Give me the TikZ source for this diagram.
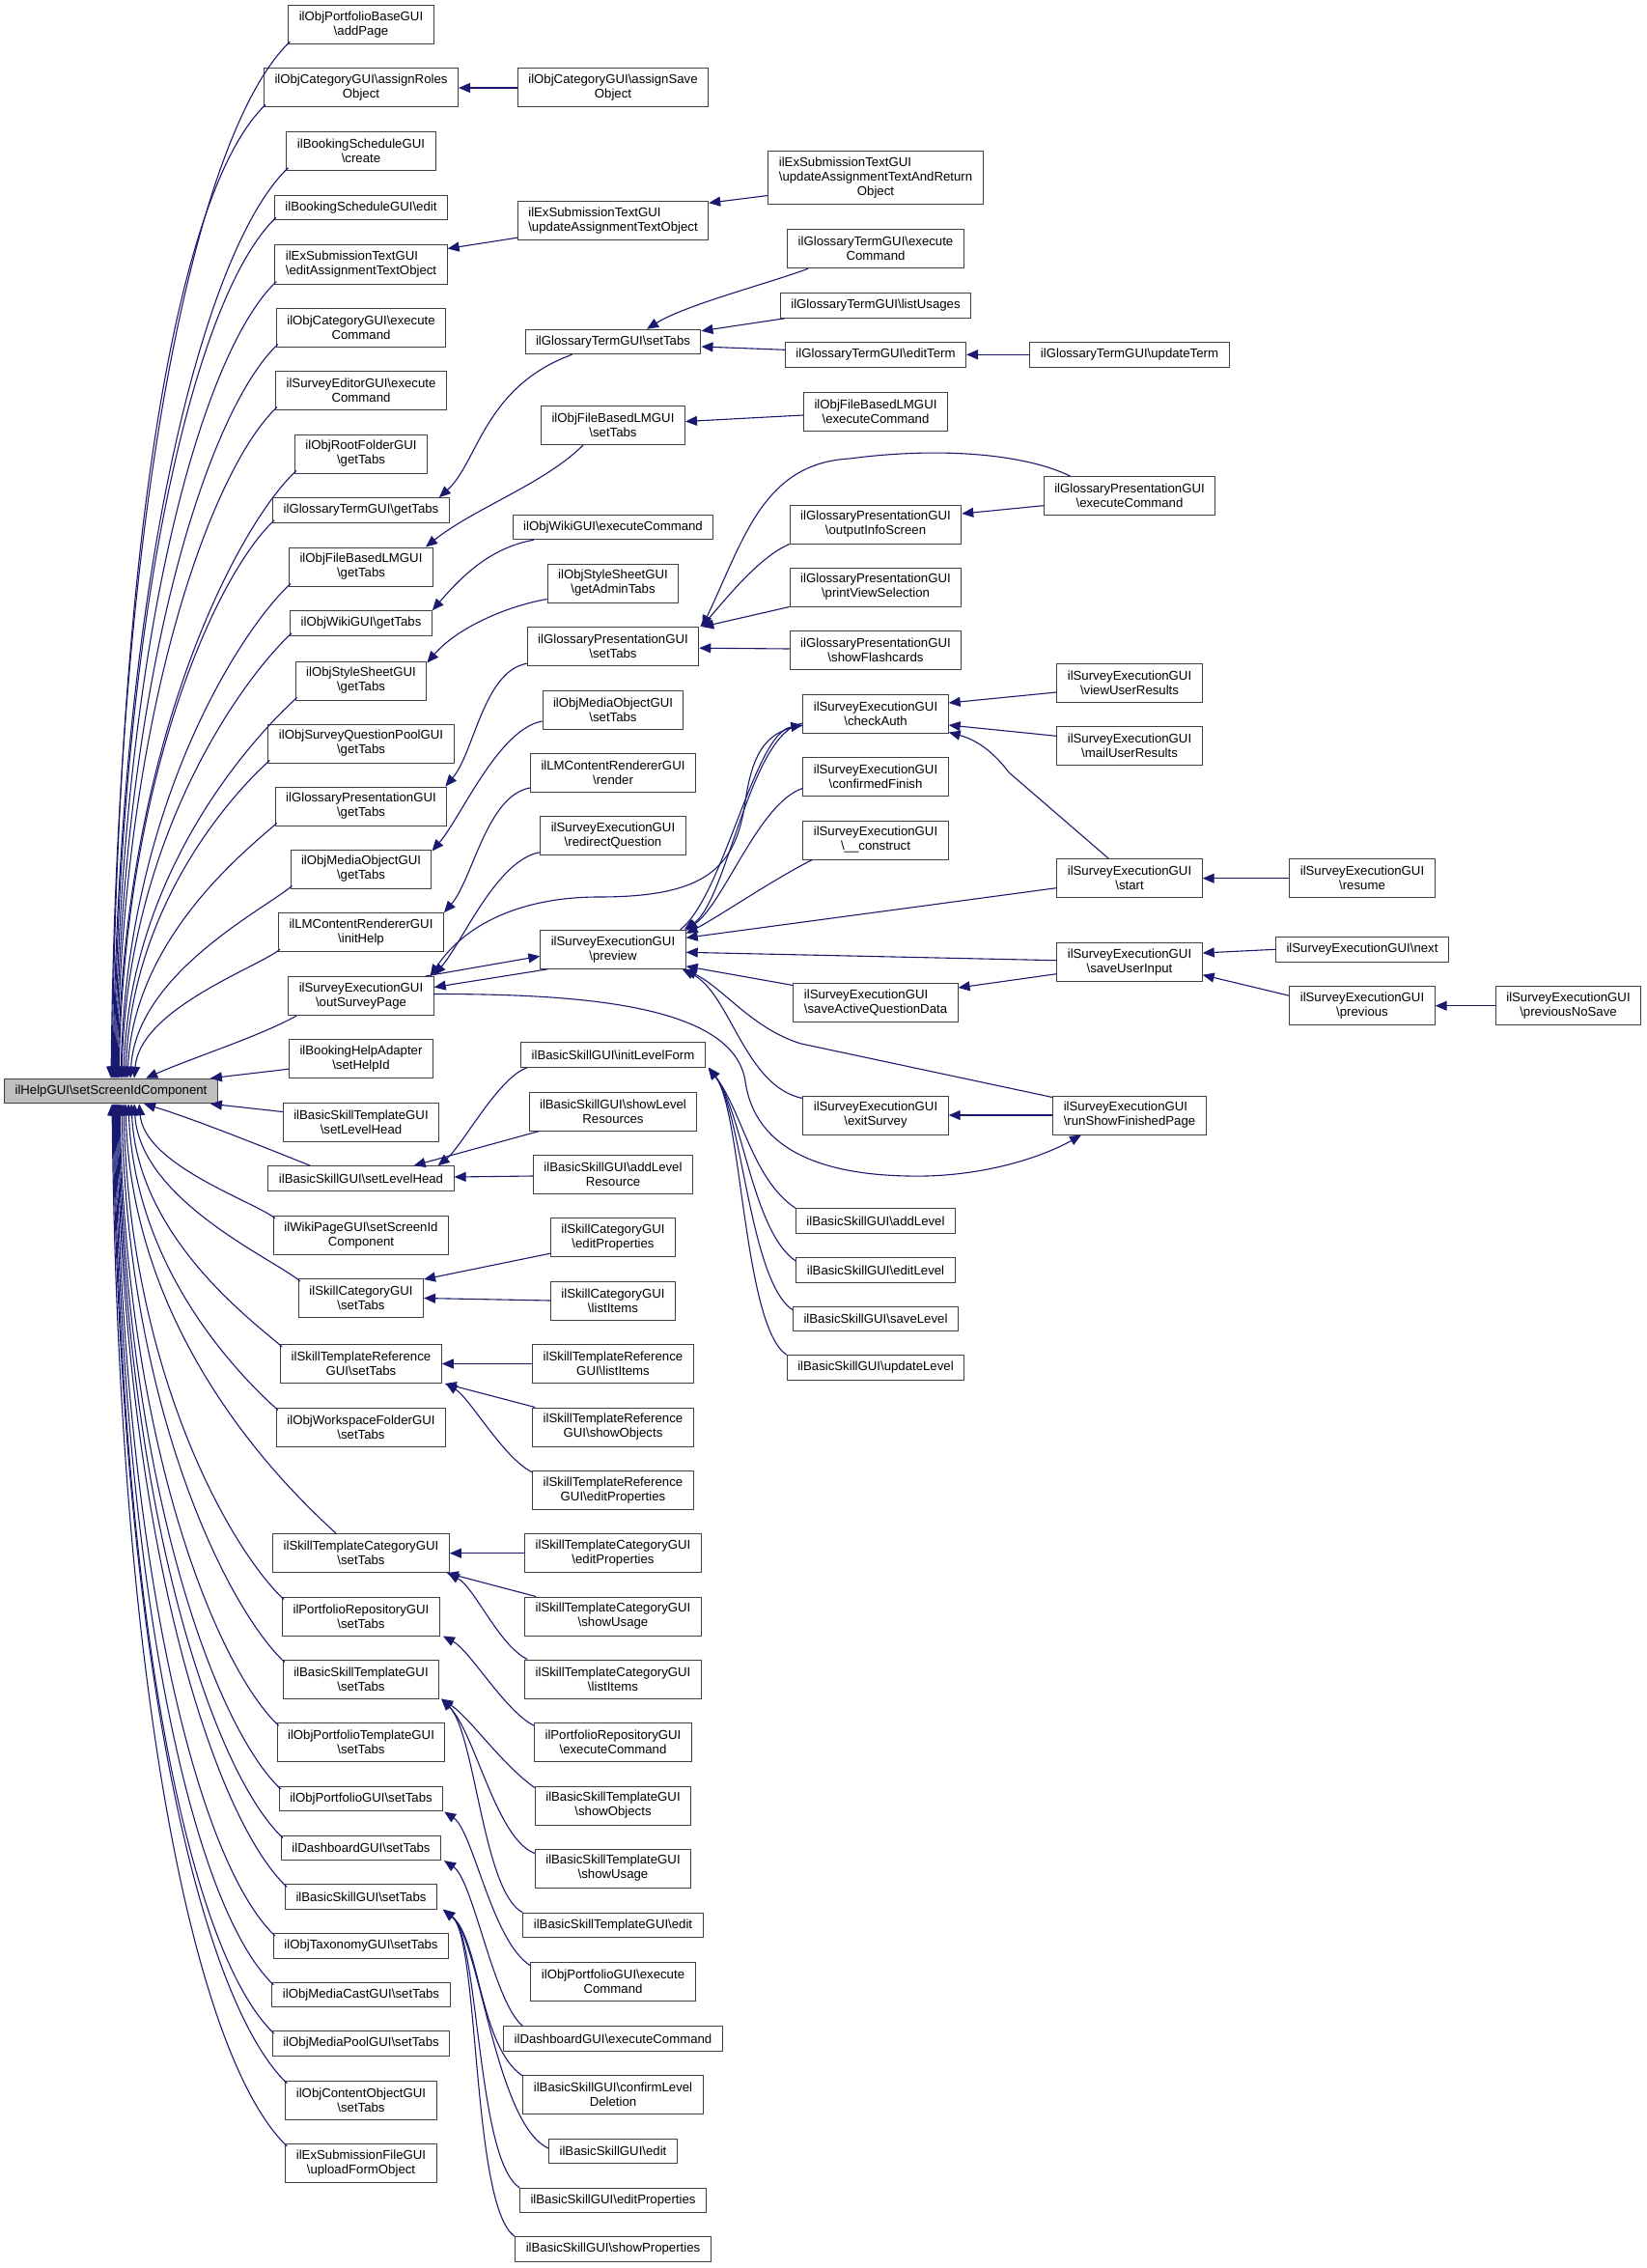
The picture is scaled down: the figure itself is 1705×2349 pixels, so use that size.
\documentclass[tikz,border=0pt]{standalone}
\usepackage{fontspec}
\setmainfont{Liberation Sans}
\usetikzlibrary{arrows.meta,calc}
\definecolor{edgeblue}{RGB}{25,25,112}
\newcommand\bs{\textbackslash}
\newcommand\dfont{\fontsize{6.6}{7.5}\selectfont}
\tikzset{
 base/.style={draw=black!75, line width=0.5pt, fill=white, font=\dfont, inner xsep=5.5pt, inner ysep=1pt, align=center},
 b1/.style={base, minimum height=12.75pt},
 b2/.style={base, minimum height=20pt},
 b3/.style={base, minimum height=27.5pt},
 lft/.style={align=left},
 cg/.style={draw=edgeblue, line width=0.55pt, arrows={Triangle[length=6pt,width=5pt]-}},
}
\newcommand\fanU[3]{\draw[cg] ([shift={(#2,0)}]root.north west) .. controls +(6,{-0.55*#3}) and +({-0.08*#3-12},{0.08*#3+8}) .. ([shift={(2,-3)}]#1.south west);}
\newcommand\fanD[3]{\draw[cg] ([shift={(#2,0)}]root.south west) .. controls +(6,{0.55*#3}) and +({-0.08*#3-12},{-0.08*#3-8}) .. ([shift={(2,3)}]#1.north west);}
\begin{document}
\begin{tikzpicture}[x=0.5pt, y=-0.5pt]
\useasboundingbox (0,0) rectangle (1705,2349);
% ---------- root
\node[b1, fill=black!25] (root) at (115,1130) {ilHelpGUI\bs setScreenIdComponent};
% ---------- column 1
\node[b2] (addPage) at (374,25.7) {ilObjPortfolioBaseGUI\\\bs addPage};
\node[b2] (assignRoles) at (374,91) {ilObjCategoryGUI\bs assignRoles\\Object};
\node[b2] (create) at (374,156.3) {ilBookingScheduleGUI\\\bs create};
\node[b1] (bookEdit) at (374,215) {ilBookingScheduleGUI\bs edit};
\node[b2,lft] (editAssign) at (374,274) {ilExSubmissionTextGUI\\\bs editAssignmentTextObject};
\node[b2] (catExec) at (374,339) {ilObjCategoryGUI\bs execute\\Command};
\node[b2] (seExec) at (374,404) {ilSurveyEditorGUI\bs execute\\Command};
\node[b2] (rootFolder) at (374,470) {ilObjRootFolderGUI\\\bs getTabs};
\node[b1] (gtGetTabs) at (374,528.5) {ilGlossaryTermGUI\bs getTabs};
\node[b2] (flmGetTabs) at (374,587) {ilObjFileBasedLMGUI\\\bs getTabs};
\node[b1] (wikiGetTabs) at (374,645.5) {ilObjWikiGUI\bs getTabs};
\node[b2] (ssGetTabs) at (374,705) {ilObjStyleSheetGUI\\\bs getTabs};
\node[b2] (sqpGetTabs) at (374,770) {ilObjSurveyQuestionPoolGUI\\\bs getTabs};
\node[b2] (gpGetTabs) at (374,835) {ilGlossaryPresentationGUI\\\bs getTabs};
\node[b2] (moGetTabs) at (374,900) {ilObjMediaObjectGUI\\\bs getTabs};
\node[b2] (initHelp) at (374,965.7) {ilLMContentRendererGUI\\\bs initHelp};
\node[b2] (outSurvey) at (374,1031.5) {ilSurveyExecutionGUI\\\bs outSurveyPage};
\node[b2] (setHelpId) at (374,1096.7) {ilBookingHelpAdapter\\\bs setHelpId};
\node[b2] (bstLevelHead) at (374,1162) {ilBasicSkillTemplateGUI\\\bs setLevelHead};
\node[b1] (bsLevelHead) at (374,1220.5) {ilBasicSkillGUI\bs setLevelHead};
\node[b2] (wikiPage) at (374,1279.3) {ilWikiPageGUI\bs setScreenId\\Component};
\node[b2] (scSetTabs) at (374,1344.5) {ilSkillCategoryGUI\\\bs setTabs};
\node[b2] (strSetTabs) at (374,1412.5) {ilSkillTemplateReference\\GUI\bs setTabs};
\node[b2] (wsSetTabs) at (374,1478) {ilObjWorkspaceFolderGUI\\\bs setTabs};
\node[b2] (stcSetTabs) at (374,1608.7) {ilSkillTemplateCategoryGUI\\\bs setTabs};
\node[b2] (prSetTabs) at (374,1674) {ilPortfolioRepositoryGUI\\\bs setTabs};
\node[b2] (bstSetTabs) at (374,1739) {ilBasicSkillTemplateGUI\\\bs setTabs};
\node[b2] (optSetTabs) at (374,1804.7) {ilObjPortfolioTemplateGUI\\\bs setTabs};
\node[b1] (opSetTabs) at (374,1863.2) {ilObjPortfolioGUI\bs setTabs};
\node[b1] (dbSetTabs) at (374,1913.8) {ilDashboardGUI\bs setTabs};
\node[b1] (bsSetTabs) at (374,1964.5) {ilBasicSkillGUI\bs setTabs};
\node[b1] (taxSetTabs) at (374,2015.3) {ilObjTaxonomyGUI\bs setTabs};
\node[b1] (mcSetTabs) at (374,2066) {ilObjMediaCastGUI\bs setTabs};
\node[b1] (mpSetTabs) at (374,2116.3) {ilObjMediaPoolGUI\bs setTabs};
\node[b2] (coSetTabs) at (374,2175.3) {ilObjContentObjectGUI\\\bs setTabs};
\node[b2] (exfUpload) at (374,2240.5) {ilExSubmissionFileGUI\\\bs uploadFormObject};
% ---------- column 2
\node[b2] (assignSave) at (635,91) {ilObjCategoryGUI\bs assignSave\\Object};
\node[b2,lft] (updAssign) at (635,228.7) {ilExSubmissionTextGUI\\\bs updateAssignmentTextObject};
\node[b1] (gtSetTabs) at (635,354) {ilGlossaryTermGUI\bs setTabs};
\node[b2] (flmSetTabs) at (635,440.5) {ilObjFileBasedLMGUI\\\bs setTabs};
\node[b1] (wikiExec) at (635,546) {ilObjWikiGUI\bs executeCommand};
\node[b2] (ssAdmin) at (635,604) {ilObjStyleSheetGUI\\\bs getAdminTabs};
\node[b2] (gpSetTabs) at (635,669.7) {ilGlossaryPresentationGUI\\\bs setTabs};
\node[b2] (moSetTabs) at (635,735) {ilObjMediaObjectGUI\\\bs setTabs};
\node[b2] (render) at (635,800) {ilLMContentRendererGUI\\\bs render};
\node[b2] (redirect) at (635,865.7) {ilSurveyExecutionGUI\\\bs redirectQuestion};
\node[b2] (preview) at (635,983.3) {ilSurveyExecutionGUI\\\bs preview};
\node[b1] (initLevel) at (635,1092.5) {ilBasicSkillGUI\bs initLevelForm};
\node[b2] (showLevelRes) at (635,1151) {ilBasicSkillGUI\bs showLevel\\Resources};
\node[b2] (addLevelRes) at (635,1216) {ilBasicSkillGUI\bs addLevel\\Resource};
\node[b2] (scEdit) at (635,1281.7) {ilSkillCategoryGUI\\\bs editProperties};
\node[b2] (scList) at (635,1347) {ilSkillCategoryGUI\\\bs listItems};
\node[b2] (strList) at (635,1412.5) {ilSkillTemplateReference\\GUI\bs listItems};
\node[b2] (strShow) at (635,1478) {ilSkillTemplateReference\\GUI\bs showObjects};
\node[b2] (strEdit) at (635,1543.3) {ilSkillTemplateReference\\GUI\bs editProperties};
\node[b2] (stcEdit) at (635,1608.7) {ilSkillTemplateCategoryGUI\\\bs editProperties};
\node[b2] (stcUsage) at (635,1674) {ilSkillTemplateCategoryGUI\\\bs showUsage};
\node[b2] (stcList) at (635,1739) {ilSkillTemplateCategoryGUI\\\bs listItems};
\node[b2] (prExec) at (635,1804.7) {ilPortfolioRepositoryGUI\\\bs executeCommand};
\node[b2] (bstShow) at (635,1870) {ilBasicSkillTemplateGUI\\\bs showObjects};
\node[b2] (bstUsage) at (635,1935) {ilBasicSkillTemplateGUI\\\bs showUsage};
\node[b1] (bstEdit) at (635,1994) {ilBasicSkillTemplateGUI\bs edit};
\node[b2] (opExec) at (635,2052.3) {ilObjPortfolioGUI\bs execute\\Command};
\node[b1] (dbExec) at (635,2111.3) {ilDashboardGUI\bs executeCommand};
\node[b2] (confirmDel) at (635,2169.5) {ilBasicSkillGUI\bs confirmLevel\\Deletion};
\node[b1] (bsEdit) at (635,2228) {ilBasicSkillGUI\bs edit};
\node[b1] (bsEditProps) at (635,2279) {ilBasicSkillGUI\bs editProperties};
\node[b1] (bsShowProps) at (635,2329.5) {ilBasicSkillGUI\bs showProperties};
% ---------- column 3
\node[b3] (updRet) at (907,184.5) {\begin{tabular}{@{}l@{}}ilExSubmissionTextGUI\\\bs updateAssignmentTextAndReturn\\\multicolumn{1}{@{}c@{}}{Object}\end{tabular}};
\node[b2] (gtExec) at (907,257.7) {ilGlossaryTermGUI\bs execute\\Command};
\node[b1] (gtList) at (907,316.5) {ilGlossaryTermGUI\bs listUsages};
\node[b1] (gtEdit) at (907,367.3) {ilGlossaryTermGUI\bs editTerm};
\node[b2] (flmExec) at (907,426) {ilObjFileBasedLMGUI\\\bs executeCommand};
\node[b2] (gpInfo) at (907,543) {ilGlossaryPresentationGUI\\\bs outputInfoScreen};
\node[b2] (gpPrint) at (907,608) {ilGlossaryPresentationGUI\\\bs printViewSelection};
\node[b2] (gpFlash) at (907,673.5) {ilGlossaryPresentationGUI\\\bs showFlashcards};
\node[b2] (checkAuth) at (907,739) {ilSurveyExecutionGUI\\\bs checkAuth};
\node[b2] (confFinish) at (907,804.5) {ilSurveyExecutionGUI\\\bs confirmedFinish};
\node[b2] (construct) at (907,870) {ilSurveyExecutionGUI\\\bs\_\_construct};
\node[b2,lft] (saveAQD) at (907,1038) {ilSurveyExecutionGUI\\\bs saveActiveQuestionData};
\node[b2] (exitSurvey) at (907,1155) {ilSurveyExecutionGUI\\\bs exitSurvey};
\node[b1] (addLevel) at (907,1264.5) {ilBasicSkillGUI\bs addLevel};
\node[b1] (editLevel) at (907,1315.3) {ilBasicSkillGUI\bs editLevel};
\node[b1] (saveLevel) at (907,1366) {ilBasicSkillGUI\bs saveLevel};
\node[b1] (updateLevel) at (907,1416.5) {ilBasicSkillGUI\bs updateLevel};
% ---------- column 4
\node[b1] (gtUpd) at (1170,367.3) {ilGlossaryTermGUI\bs updateTerm};
\node[b2] (gpExec) at (1170,513.7) {ilGlossaryPresentationGUI\\\bs executeCommand};
\node[b2] (viewUser) at (1170,707) {ilSurveyExecutionGUI\\\bs viewUserResults};
\node[b2] (mailUser) at (1170,772.3) {ilSurveyExecutionGUI\\\bs mailUserResults};
\node[b2] (startN) at (1170,909.7) {ilSurveyExecutionGUI\\\bs start};
\node[b2] (saveInput) at (1170,996.7) {ilSurveyExecutionGUI\\\bs saveUserInput};
\node[b2,lft] (runShow) at (1170,1155) {ilSurveyExecutionGUI\\\bs runShowFinishedPage};
% ---------- column 5, 6
\node[b2] (resume) at (1411,909.7) {ilSurveyExecutionGUI\\\bs resume};
\node[b1] (nextN) at (1411,983.3) {ilSurveyExecutionGUI\bs next};
\node[b2] (previous) at (1411,1041.7) {ilSurveyExecutionGUI\\\bs previous};
\node[b2] (prevNoSave) at (1624.5,1041.7) {ilSurveyExecutionGUI\\\bs previousNoSave};

% ========== fan into root (upper)
\fanU{addPage}{111}{1071}
\fanU{assignRoles}{112}{1006}
\fanU{create}{113}{941}
\fanU{bookEdit}{114}{889}
\fanU{editAssign}{115}{823}
\fanU{catExec}{116}{758}
\fanU{seExec}{117}{693}
\fanU{rootFolder}{118}{627}
\fanU{gtGetTabs}{119}{576}
\fanU{flmGetTabs}{121}{510}
\fanU{wikiGetTabs}{122}{459}
\fanU{ssGetTabs}{124}{392}
\fanU{sqpGetTabs}{126}{327}
\fanU{gpGetTabs}{128}{262}
\fanU{moGetTabs}{131}{197}
\fanU{initHelp}{135}{131}
\draw[cg] ([shift={(147,0)}]root.north west) .. controls +(50,-22) and +(-40,22) .. ([shift={(9,0)}]outSurvey.south west);
\draw[cg] ([shift={(-8,0)}]root.north east) -- ([shift={(0,-10)}]setHelpId.south west);
% ========== fan into root (lower)
\draw[cg] ([shift={(-8,0)}]root.south east) -- ([shift={(0,10)}]bstLevelHead.north west);
\draw[cg] ([shift={(145,0)}]root.south west) .. controls +(50,15) and +(-50,-20) .. ([shift={(44,0)}]bsLevelHead.north west);
\fanD{wikiPage}{140}{116}
\fanD{scSetTabs}{135}{182}
\fanD{strSetTabs}{132}{250}
\fanD{wsSetTabs}{129}{315}
\draw[cg] ([shift={(126,0)}]root.south west) .. controls +(6,245) and +(-48,-44) .. ([shift={(66,0)}]stcSetTabs.north west);
\fanD{prSetTabs}{124}{511}
\fanD{bstSetTabs}{122}{576}
\fanD{optSetTabs}{120}{642}
\fanD{opSetTabs}{119}{708}
\fanD{dbSetTabs}{118}{758}
\fanD{bsSetTabs}{117}{809}
\fanD{taxSetTabs}{116}{860}
\fanD{mcSetTabs}{115}{910}
\fanD{mpSetTabs}{114}{961}
\fanD{coSetTabs}{113}{1012}
\fanD{exfUpload}{112}{1078}

% ========== other edges
\draw[cg] (assignRoles.east) -- (assignSave.west);
\draw[cg] ([shift={(0,4)}]editAssign.north east) -- ([shift={(0,-3)}]updAssign.south west);
\draw[cg] ([shift={(0,2)}]updAssign.north east) -- ([shift={(0,-10)}]updRet.south west);
% glossary term
\draw[cg] ([shift={(35,0)}]gtSetTabs.north) .. controls +(40,-25) and +(-40,15) .. ([shift={(22,0)}]gtExec.south west);
\draw[cg] ([shift={(0,2)}]gtSetTabs.north east) -- ([shift={(5,0)}]gtList.south west);
\draw[cg] ([shift={(0,5)}]gtSetTabs.east) -- ([shift={(0,-5)}]gtEdit.west);
\draw[cg] (gtEdit.east) -- (gtUpd.west);
\draw[cg] ([shift={(-11,0)}]gtGetTabs.north east) .. controls +(40,-36) and +(-91,33) .. ([shift={(49,0)}]gtSetTabs.south west);
% file based LM
\draw[cg] ([shift={(-8,0)}]flmGetTabs.north east) .. controls +(50,-40) and +(-40,40) .. ([shift={(44,0)}]flmSetTabs.south west);
\draw[cg] ([shift={(0,-4)}]flmSetTabs.east) -- ([shift={(0,4)}]flmExec.west);
% wiki, style sheet
\draw[cg] (wikiGetTabs.north east) .. controls +(30,-35) and +(-45,8) .. ([shift={(22,0)}]wikiExec.south west);
\draw[cg] ([shift={(0,2)}]ssGetTabs.north east) .. controls +(30,-35) and +(-45,8) .. ([shift={(0,-4)}]ssAdmin.south west);
% glossary presentation
\draw[cg] ([shift={(-2,0)}]gpGetTabs.north east) .. controls +(30,-35) and +(-45,8) .. ([shift={(0,-3)}]gpSetTabs.south west);
\draw[cg] ([shift={(1,0)}]gpSetTabs.north east) .. controls +(20,-20) and +(-35,15) .. ([shift={(0,0)}]gpInfo.south west);
\draw[cg] ([shift={(3,0)}]gpSetTabs.north east) -- (gpPrint.south west);
\draw[cg] ([shift={(0,1.5)}]gpSetTabs.east) -- ([shift={(0,-1.5)}]gpFlash.west);
\draw[cg] ([shift={(3,0)}]gpSetTabs.north east) .. controls +(43,-90) and +(-90,5) .. (880,475) .. controls +(90,-12) and +(-49,-24) .. ([shift={(28,0)}]gpExec.north west);
\draw[cg] ([shift={(0,-11)}]gpInfo.east) -- ([shift={(0,10)}]gpExec.west);
% media object, LM renderer
\draw[cg] ([shift={(0,2)}]moGetTabs.north east) .. controls +(30,-35) and +(-45,8) .. ([shift={(0,12)}]moSetTabs.west);
\draw[cg] (initHelp.north east) .. controls +(30,-35) and +(-45,8) .. ([shift={(0,16)}]render.west);
% survey execution
\draw[cg] ([shift={(0,-1)}]outSurvey.north east) .. controls +(30,-35) and +(-45,8) .. ([shift={(0,17)}]redirect.west);
\draw[cg] ([shift={(0,-9)}]outSurvey.east) -- ([shift={(8,0)}]preview.south west);
\draw[cg] ([shift={(0,7)}]preview.west) -- ([shift={(-9,0)}]outSurvey.north east);
\draw[cg] ([shift={(-4,0)}]outSurvey.north east) .. controls +(40,-60) and +(-70,0) .. (620,929) .. controls +(110,0) and +(-10,70) .. (772,830) .. controls +(8,-55) and +(-35,5) .. ([shift={(0,-8)}]checkAuth.south west);
\draw[cg] ([shift={(-2,0)}]preview.north east) .. controls +(45,-30) and +(-55,10) .. ([shift={(0,10)}]checkAuth.west);
\draw[cg] ([shift={(0,12)}]checkAuth.west) .. controls +(-50,8) and +(45,-35) .. ([shift={(-6,0)}]preview.north east);
\draw[cg] ([shift={(0,1)}]preview.north east) .. controls +(40,-30) and +(-45,15) .. ([shift={(0,12)}]confFinish.west);
\draw[cg] ([shift={(0,4)}]preview.north east) .. controls +(30,-15) and +(-40,20) .. ([shift={(10,0)}]construct.south west);
\draw[cg] ([shift={(0,-12)}]preview.east) -- ([shift={(0,10)}]startN.west);
\draw[cg] ([shift={(0,3)}]preview.east) -- ([shift={(0,-2)}]saveInput.west);
\draw[cg] ([shift={(0,-3)}]preview.south east) -- ([shift={(0,3)}]saveAQD.north west);
\draw[cg] ([shift={(-4,0)}]preview.south east) .. controls +(50,25) and +(-60,-12) .. ([shift={(0,3)}]exitSurvey.north west);
\draw[cg] ([shift={(-1,0)}]preview.south east) .. controls +(40,20) and +(-50,-15) .. (830,1081) -- ([shift={(0,2)}]runShow.north west);
\draw[cg] ([shift={(-50,0)}]runShow.south) .. controls +(-35,20) and +(70,-2) .. (960,1218) .. controls +(-110,2) and +(10,70) .. (772,1120) .. controls +(-12,-80) and +(150,0) .. ([shift={(0,-2)}]outSurvey.east);
\draw[cg] ([shift={(0,-11)}]checkAuth.east) -- ([shift={(0,10)}]viewUser.west);
\draw[cg] ([shift={(0,12)}]checkAuth.east) -- ([shift={(0,-10)}]mailUser.west);
\draw[cg] ([shift={(0,-1)}]checkAuth.south east) .. controls +(30,8) and +(-15,-20) .. (1045,800) -- ([shift={(54,0)}]startN.north west);
\draw[cg] (startN.east) -- (resume.west);
\draw[cg] ([shift={(0,-9.7)}]saveInput.east) -- (nextN.west);
\draw[cg] ([shift={(0,13)}]saveInput.east) -- ([shift={(0,10)}]previous.north west);
\draw[cg] (previous.east) -- (prevNoSave.west);
\draw[cg] ([shift={(0,-15)}]saveAQD.east) -- ([shift={(0,12)}]saveInput.west);
\draw[cg] (exitSurvey.east) -- (runShow.west);
% basic skill level
\draw[cg] ([shift={(-17,0)}]bsLevelHead.north east) .. controls +(25,-20) and +(-30,10) .. ([shift={(7,0)}]initLevel.south west);
\draw[cg] ([shift={(-42,0)}]bsLevelHead.north east) -- ([shift={(11,0)}]showLevelRes.south west);
\draw[cg] ([shift={(0,-1.5)}]bsLevelHead.east) -- ([shift={(0,2)}]addLevelRes.west);
\draw[cg] ([shift={(3,0)}]initLevel.south east) .. controls +(35,45) and +(-45,-30) .. (addLevel.north west);
\draw[cg] ([shift={(3,0)}]initLevel.south east) .. controls +(35,45) and +(-45,-30) .. ([shift={(0,4)}]editLevel.north west);
\draw[cg] ([shift={(3,0)}]initLevel.south east) .. controls +(35,45) and +(-45,-30) .. ([shift={(0,4)}]saveLevel.north west);
\draw[cg] ([shift={(3,0)}]initLevel.south east) .. controls +(35,45) and +(-45,-30) .. (updateLevel.north west);
% skill category
\draw[cg] ([shift={(0,1)}]scSetTabs.north east) -- ([shift={(0,-4)}]scEdit.south west);
\draw[cg] (scSetTabs.east) -- (scList.west);
% skill template reference
\draw[cg] (strSetTabs.east) -- (strList.west);
\draw[cg] ([shift={(3,0)}]strSetTabs.south east) -- ([shift={(3,0)}]strShow.north west);
\draw[cg] ([shift={(4,0)}]strSetTabs.south east) .. controls +(25,15) and +(-30,-15) .. ([shift={(0,2)}]strEdit.north west);
% skill template category
\draw[cg] (stcSetTabs.east) -- (stcEdit.west);
\draw[cg] ([shift={(-3,0)}]stcSetTabs.south east) -- ([shift={(12,0)}]stcUsage.north west);
\draw[cg] ([shift={(-2,0)}]stcSetTabs.south east) .. controls +(28,15) and +(-30,-15) .. ([shift={(3,0)}]stcList.north west);
% portfolio repository
\draw[cg] ([shift={(3,0)}]prSetTabs.south east) .. controls +(28,15) and +(-30,-15) .. ([shift={(0,3)}]prExec.north west);
% basic skill template
\draw[cg] ([shift={(2,0)}]bstSetTabs.south east) .. controls +(30,20) and +(-35,-25) .. ([shift={(0,2)}]bstShow.north west);
\draw[cg] ([shift={(2,0)}]bstSetTabs.south east) .. controls +(35,35) and +(-40,-15) .. ([shift={(0,5)}]bstUsage.north west);
\draw[cg] ([shift={(2,0)}]bstSetTabs.south east) .. controls +(35,35) and +(-41,-21) .. (bstEdit.north west);
% portfolio / dashboard
\draw[cg] ([shift={(1,0)}]opSetTabs.south east) .. controls +(30,20) and +(-40,-25) .. ([shift={(0,4)}]opExec.north west);
\draw[cg] ([shift={(3,0)}]dbSetTabs.south east) .. controls +(30,20) and +(-30,-25) .. ([shift={(20,0)}]dbExec.north west);
% basic skill set tabs
\draw[cg] ([shift={(6,0)}]bsSetTabs.south east) .. controls +(38,30) and +(-45,-30) .. ([shift={(0,1)}]confirmDel.north west);
\draw[cg] ([shift={(6,0)}]bsSetTabs.south east) .. controls +(38,30) and +(-55,-25) .. ([shift={(0,-3)}]bsEdit.west);
\draw[cg] ([shift={(6,0)}]bsSetTabs.south east) .. controls +(38,30) and +(-45,-30) .. (bsEditProps.north west);
\draw[cg] ([shift={(6,0)}]bsSetTabs.south east) .. controls +(38,30) and +(-45,-30) .. (bsShowProps.north west);
\end{tikzpicture}
\end{document}
